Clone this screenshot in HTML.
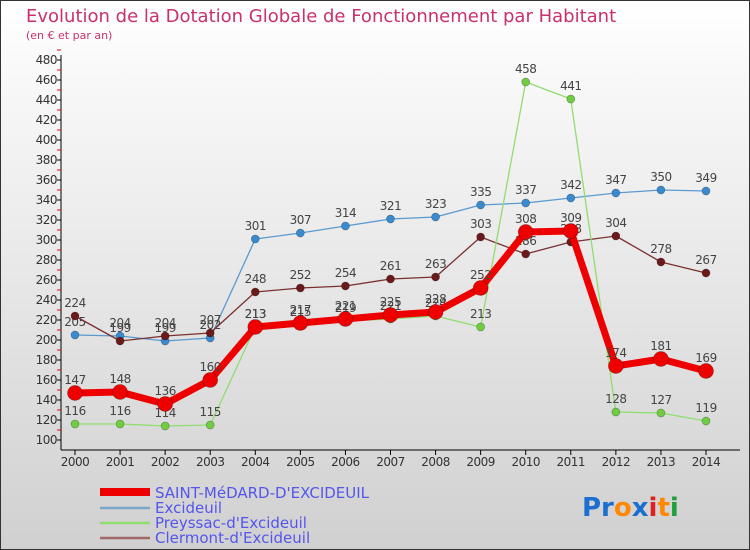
<!DOCTYPE html>
<html><head><meta charset="utf-8"><style>
body{margin:0;width:750px;height:550px;overflow:hidden}
svg{display:block;font-family:"DejaVu Sans","Liberation Sans",sans-serif}
</style></head><body>
<svg id="c" width="750" height="550">
<defs><linearGradient id="bg" x1="0" y1="0" x2="0" y2="1"><stop offset="0" stop-color="#ffffff"/><stop offset="1" stop-color="#d0d0d0"/></linearGradient></defs>
<rect x="0.5" y="0.5" width="749" height="549" fill="url(#bg)" stroke="#333"/>
<text x="26" y="22" font-size="18" fill="#c8306e">Evolution de la Dotation Globale de Fonctionnement par Habitant</text>
<text x="26" y="39" font-size="11" fill="#c8306e">(en € et par an)</text>
<g id="axes"></g><g id="series"></g>
<g>
<rect x="100" y="488" width="50" height="8" fill="#e00"/>
<text x="155" y="498" font-size="15" fill="#5555ee">SAINT-MéDARD-D'EXCIDEUIL</text>
<line x1="100" y1="508" x2="150" y2="508" stroke="#7aa8c8" stroke-width="2.5"/>
<text x="155" y="513" font-size="15" fill="#5555ee">Excideuil</text>
<line x1="100" y1="523" x2="150" y2="523" stroke="#90dd70" stroke-width="2.5"/>
<text x="155" y="528" font-size="15" fill="#5555ee">Preyssac-d'Excideuil</text>
<line x1="100" y1="538" x2="150" y2="538" stroke="#a06868" stroke-width="2.5"/>
<text x="155" y="543" font-size="15" fill="#5555ee">Clermont-d'Excideuil</text>
</g>
<text x="582" y="516" font-size="26" font-weight="bold"><tspan fill="#1a6fd0">Pr</tspan><tspan fill="#ff8800">o</tspan><tspan fill="#1a6fd0">x</tspan><tspan fill="#e02020">i</tspan><tspan fill="#ff8800">t</tspan><tspan fill="#20a040">i</tspan></text>
</svg>
<script>
const years=[2000,2001,2002,2003,2004,2005,2006,2007,2008,2009,2010,2011,2012,2013,2014];
const saint=[147,148,136,160,213,217,221,225,228,252,308,309,174,181,169];
const excideuil=[205,204,199,202,301,307,314,321,323,335,337,342,347,350,349];
const preyssac=[116,116,114,115,213,215,219,221,224,213,458,441,128,127,119];
const clermont=[224,199,204,207,248,252,254,261,263,303,286,298,304,278,267];
const yTicks=[100,120,140,160,180,200,220,240,260,280,300,320,340,360,380,400,420,440,460,480];
const NS="http://www.w3.org/2000/svg";
const xs=i=>75+i*(706-75)/(years.length-1);
const ys=v=>440-(v-100)*(380/380);
function el(t,a,p){const e=document.createElementNS(NS,t);for(const k in a)e.setAttribute(k,a[k]);p.appendChild(e);return e;}
const ax=document.getElementById('axes');
let l=el('line',{x1:61,y1:55,x2:61,y2:450,stroke:'#000'},ax);


l=el('line',{x1:61,y1:450,x2:740,y2:450,stroke:'#000'},ax);


yTicks.forEach(v=>{
 const y=ys(v);
 el('line',{x1:57,y1:y,x2:61,y2:y,stroke:'#000'},ax);
 el('line',{x1:57,y1:y-10,x2:61,y2:y-10,stroke:'#e00'},ax);
 const t=el('text',{x:57,y:y+4,'font-size':12,'text-anchor':'end',fill:'#333','letter-spacing':'-0.5'},ax);
 t.textContent=v;
 
 
});
years.forEach((yr,i)=>{
 const x=xs(i);
 el('line',{x1:x,y1:450,x2:x,y2:455,stroke:'#000'},ax);
 const t=el('text',{x:x,y:466,'font-size':12,'text-anchor':'middle',fill:'#333','letter-spacing':'-0.5'},ax);
 t.textContent=yr;
 
 
});
const sg=document.getElementById('series');
function series(name,data,color,fill,w,r){
 const g=el('g',{},sg);
 
 
 const p=el('polyline',{points:data.map((v,i)=>xs(i)+','+ys(v)).join(' '),fill:'none',stroke:color,'stroke-width':w,'stroke-linejoin':'round'},g);
 
 
 data.forEach((v,i)=>{
  const c=el('circle',{cx:xs(i),cy:ys(v),r:r,fill:fill,stroke:'rgba(0,0,0,0.3)','stroke-width':0.7},g);
  
  
  const t=el('text',{x:xs(i),y:ys(v)-9,'font-size':12,'text-anchor':'middle',fill:'#444','letter-spacing':'-0.5'},g);
  t.textContent=v;
  
  
 });
}
series('excideuil',excideuil,'#5a9ad0','#3a8ad0',1.3,4);
series('clermont',clermont,'#7a3030','#6a1a1a',1.3,4);
series('preyssac',preyssac,'#90dd70','#70cc40',1.3,4);
series('saint-medard',saint,'#ee0000','#ee0000',7,7.5);
</script>
</body></html>
